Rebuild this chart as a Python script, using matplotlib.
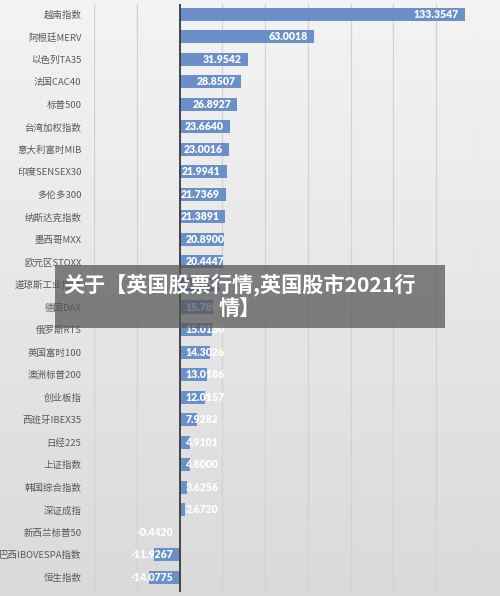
import matplotlib
matplotlib.use("Agg")
import matplotlib.pyplot as plt
import numpy as np
from matplotlib.patches import Rectangle

plt.rcParams['font.family'] = ['Noto Sans CJK SC', 'DejaVu Sans']

categories = ["越南指数", "阿根廷MERV", "以色列TA35", "法国CAC40", "标普500", "台湾加权指数",
              "意大利富时MIB", "印度SENSEX30", "多伦多300", "纳斯达克指数", "墨西哥MXX",
              "欧元区STOXX", "道琼斯工业指数", "德国DAX", "俄罗斯RTS", "英国富时100",
              "澳洲标普200", "创业板指", "西班牙IBEX35", "日经225", "上证指数", "韩国综合指数",
              "深证成指", "新西兰标普50", "巴西IBOVESPA指数", "恒生指数"]
values = [133.3547, 63.0018, 31.9542, 28.8507, 26.8927, 23.6640, 23.0016, 21.9941, 21.7369,
          21.3891, 20.8900, 20.4447, 18.7338, 15.7892, 15.0130, 14.3026, 13.0186, 12.0157,
          7.9282, 4.9101, 4.8000, 3.6256, 2.6720, -0.4420, -11.9267, -14.0775]
overlay_title = "关于【英国股票行情,英国股市2021行\n情】"

W, H = 500, 596
fig = plt.figure(figsize=(W / 100, H / 100), dpi=100)

# background gradient
bg = fig.add_axes([0, 0, 1, 1], zorder=-2)
grad = np.linspace(0.955, 0.855, 256).reshape(-1, 1)
bg.imshow(np.dstack([grad, grad, grad]), aspect='auto', extent=[0, 1, 0, 1])
bg.set_axis_off()

ax = fig.add_axes([94 / W, 4 / H, (479 - 94) / W, 588 / H])
ax.patch.set_alpha(0)
y = np.arange(len(categories))
ax.barh(y, values, height=0.58, color='#6b8fc9', zorder=3)
ax.set_xlim(-40, 140)
ax.set_ylim(len(categories) - 0.35, -0.45)
ax.set_xticks(np.arange(-40, 141, 20))
ax.xaxis.grid(True, color='#d2d2d2', linewidth=0.9, zorder=0)
ax.tick_params(axis='x', length=0, labelbottom=False)
ax.tick_params(axis='y', length=0, pad=9, labelsize=6.8, labelcolor='#595959')
ax.set_yticks(y)
ax.set_yticklabels(categories)
for s in ax.spines.values():
    s.set_visible(False)
ax.axvline(0, color='#3a3a3a', linewidth=1.3, zorder=4)

lab_kw = dict(va='center', color='white', fontsize=7.6, fontweight='heavy',
              family='Lato', zorder=5)
for yi, v in zip(y, values):
    txt = f"{v:.4f}"
    if v < 0:
        ax.text(-2.8, yi, txt, ha='right', **lab_kw)
    elif v >= 21:
        ax.text(v - 2.8, yi, txt, ha='right', **lab_kw)
    else:
        ax.text(2.8, yi, txt, ha='left', **lab_kw)

# overlay banner
ov = fig.add_axes([0, 0, 1, 1], zorder=10)
ov.set_xlim(0, W)
ov.set_ylim(H, 0)
ov.set_axis_off()
ov.patch.set_alpha(0)
ov.add_patch(Rectangle((55, 265), 390, 63, facecolor=(0.33, 0.33, 0.33), alpha=0.72,
                       edgecolor='none'))
ov.text(240, 296, overlay_title, ha='center', va='center', color='white',
        fontsize=15.2, fontweight='heavy', linespacing=1.15)

fig.savefig("out.png", dpi=100)
